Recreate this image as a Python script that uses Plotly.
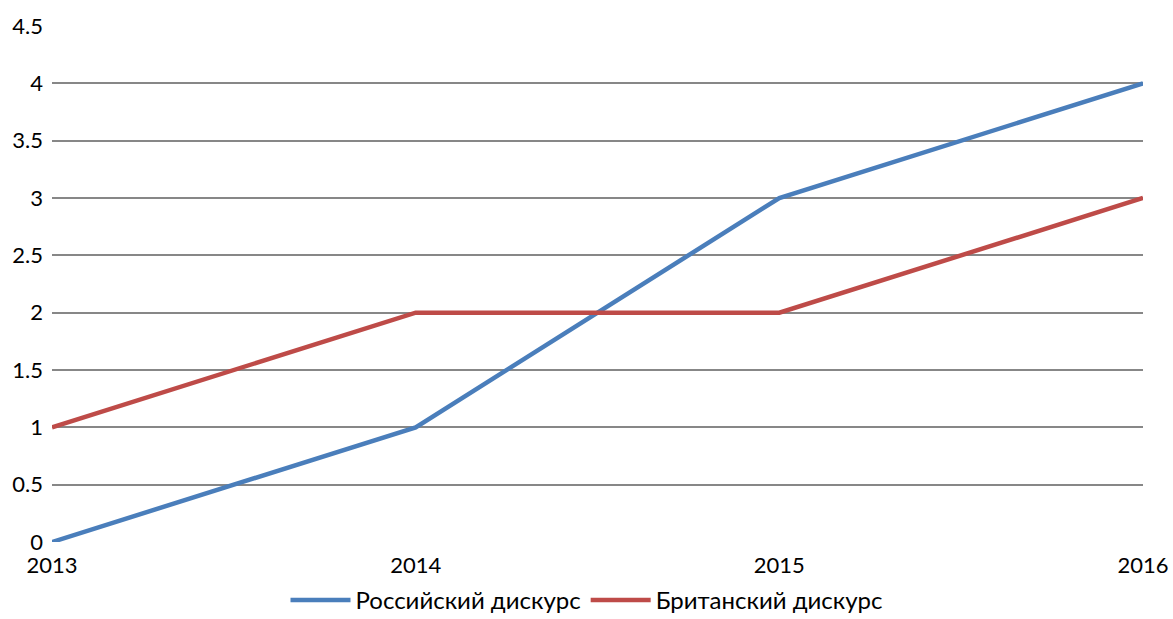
import plotly.graph_objects as go

years = ["2013", "2014", "2015", "2016"]
russian = [0, 1, 3, 4]
british = [1, 2, 2, 3]
y_ticks = [0, 0.5, 1, 1.5, 2, 2.5, 3, 3.5, 4, 4.5]
y_tick_labels = ["0", "0.5", "1", "1.5", "2", "2.5", "3", "3.5", "4", "4.5"]

fig = go.Figure()
fig.add_trace(go.Scatter(x=years, y=russian, mode="lines", name="Российский дискурс",
                         line=dict(color="#4A7EBB", width=4.5)))
fig.add_trace(go.Scatter(x=years, y=british, mode="lines", name="Британский дискурс",
                         line=dict(color="#BE4B48", width=4.5)))

fig.update_layout(
    width=1173, height=619,
    margin=dict(l=52, r=30, t=26, b=77, autoexpand=False),
    plot_bgcolor="white", paper_bgcolor="white",
    font=dict(family="Lato", size=22, color="#000000"),
    showlegend=True,
    legend=dict(orientation="h", x=0.5, xanchor="center", xref="container",
                y=0.03, yanchor="middle", yref="container",
                font=dict(size=24), itemwidth=60, tracegroupgap=0),
    xaxis=dict(type="category", range=[0, 3], showgrid=False, zeroline=False,
               showline=False, ticks="", ticklabelstandoff=8),
    yaxis=dict(range=[0, 4.5], tickvals=y_ticks, ticktext=y_tick_labels,
               showgrid=True, gridcolor="#878787", gridwidth=1.5, zeroline=False,
               showline=False, ticks="", ticklabelstandoff=8),
)

fig.write_html("out.html")
